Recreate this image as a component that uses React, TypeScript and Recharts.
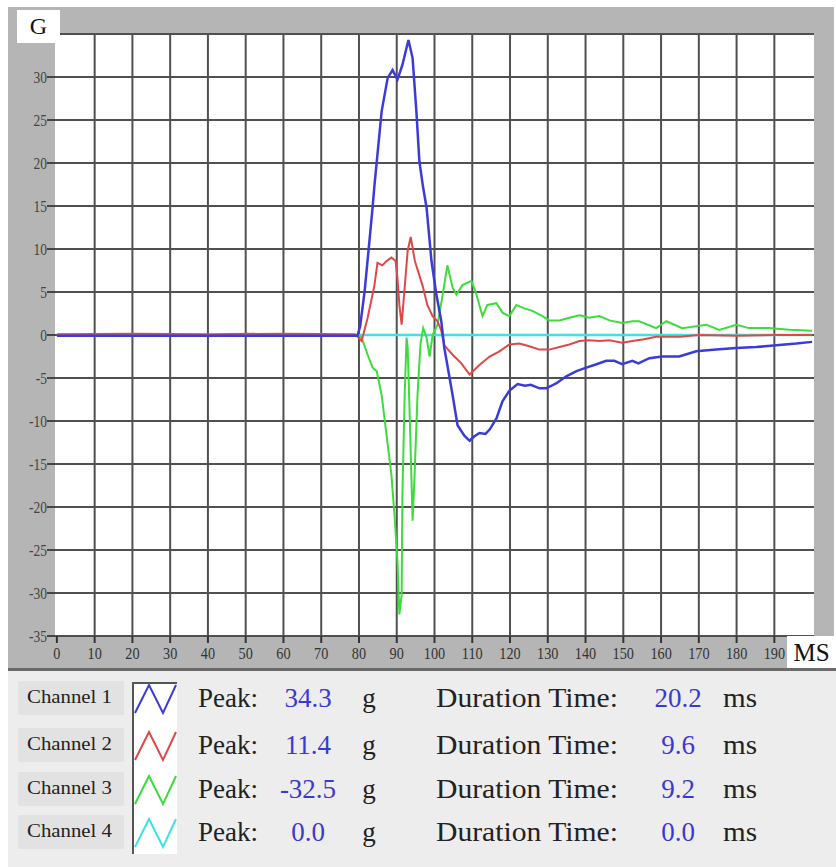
import React from 'react';
import { LineChart, Line, XAxis, YAxis, CartesianGrid } from 'recharts';

// channel 1 (blue)
const ch1Time = [0, 30, 60, 79.6, 80.3, 81.5, 83.0, 83.6, 84.1, 86.0, 87.6, 88.9, 90.2, 91.5, 93.1, 94.2, 95.2, 96.0, 96.9, 97.9, 99.2, 100.5, 101.8, 102.6, 103.2, 104.8, 106.1, 107.9, 109.3, 110.5, 111.9, 113.5, 114.6, 116.4, 118.0, 119.8, 122.0, 124.0, 125.5, 127.8, 129.6, 131.0, 132.3, 134.9, 137.6, 140.2, 142.9, 145.5, 147.6, 149.7, 152.4, 154.0, 156.9, 160.3, 164.8, 169.3, 174.6, 179.9, 185.2, 190.5, 195.8, 200];
const ch1G = [-0.1, -0.1, -0.1, -0.1, 1.0, 5.1, 12.0, 14.8, 17.4, 26.0, 29.9, 30.8, 29.7, 31.4, 34.3, 32.2, 26.0, 20.2, 17.4, 14.8, 8.6, 4.7, 1.6, -1.5, -3.0, -7.0, -10.5, -11.7, -12.3, -11.8, -11.4, -11.5, -11.0, -9.7, -7.7, -6.5, -5.7, -5.9, -5.8, -6.2, -6.2, -5.9, -5.6, -4.8, -4.2, -3.8, -3.4, -3.0, -3.0, -3.4, -3.0, -3.3, -2.7, -2.5, -2.5, -1.9, -1.7, -1.5, -1.4, -1.2, -1.0, -0.8];

// channel 2 (red)
const ch2Time = [0, 20, 40, 60, 79.0, 80.7, 82.3, 84.1, 84.9, 86.2, 87.3, 88.6, 89.7, 90.2, 90.7, 91.3, 92.1, 92.9, 93.7, 94.8, 96.8, 98.1, 99.5, 100.8, 101.8, 102.6, 104.8, 107.1, 109.3, 111.9, 114.6, 117.2, 119.8, 122.5, 125.1, 127.8, 130.4, 133.1, 135.7, 138.4, 141.0, 143.7, 146.3, 149.7, 152.4, 155.5, 158.7, 165, 170, 180, 190, 200];
const ch2G = [0.1, 0.15, 0.1, 0.15, 0.1, -0.7, 2.0, 5.8, 8.4, 8.1, 8.6, 9.0, 8.6, 6.6, 3.5, 1.2, 5.5, 9.8, 11.4, 8.6, 5.8, 3.5, 2.2, 1.6, 0.5, -1.2, -2.3, -3.3, -4.6, -3.5, -2.5, -1.9, -1.1, -1.0, -1.3, -1.7, -1.7, -1.4, -1.1, -0.7, -0.6, -0.7, -0.6, -0.9, -0.7, -0.5, -0.2, -0.2, 0.0, -0.1, 0.0, 0.0];

// channel 3 (green)
const ch3Time = [0, 40, 79.8, 80.7, 82.3, 83.6, 84.7, 86.0, 87.3, 88.6, 89.4, 90.2, 90.7, 91.3, 91.5, 92.1, 92.6, 92.9, 93.4, 94.2, 94.7, 95.5, 96.3, 97.0, 97.9, 98.7, 99.5, 100.8, 102.1, 103.4, 104.8, 105.8, 107.4, 109.8, 111.1, 112.7, 114.0, 116.4, 118.0, 119.8, 121.7, 123.8, 125.9, 128.6, 130.4, 133.1, 135.7, 138.4, 141.0, 143.7, 146.3, 149.7, 152.4, 154.2, 158.7, 161.4, 165.6, 172.0, 175.4, 179.9, 183.3, 188.6, 193.9, 200];
const ch3G = [0, 0, 0, -0.3, -2.3, -3.8, -4.2, -7.0, -11.6, -16.3, -20.9, -26.3, -32.5, -30.2, -18.6, -7.0, -0.3, -1.5, -8.8, -21.6, -16.6, -7.0, -1.0, 0.8, -0.3, -2.5, 0.0, 1.2, 4.5, 8.1, 5.5, 4.7, 5.8, 6.3, 4.7, 2.2, 3.5, 3.7, 2.6, 2.2, 3.5, 3.1, 2.8, 2.2, 1.7, 1.7, 2.0, 2.3, 2.0, 2.2, 1.7, 1.4, 1.6, 1.6, 0.8, 1.6, 0.8, 1.2, 0.6, 1.2, 0.8, 0.8, 0.6, 0.5];

// channel 4 (cyan)
const ch4Time = [80, 200];
const ch4G = [0, 0];

const xTicks = [0, 10, 20, 30, 40, 50, 60, 70, 80, 90, 100, 110, 120, 130, 140, 150, 160, 170, 180, 190];
const xGridValues = [10, 20, 30, 40, 50, 60, 70, 80, 90, 100, 110, 120, 130, 140, 150, 160, 170, 180, 190];
const yTicks = [-35, -30, -25, -20, -15, -10, -5, 0, 5, 10, 15, 20, 25, 30];

const channelNames = ['Channel 1', 'Channel 2', 'Channel 3', 'Channel 4'];
const peakValues = ['34.3', '11.4', '-32.5', '0.0'];
const durationValues = ['20.2', '9.6', '9.2', '0.0'];
const channelColors = ['#3b3bd8', '#e04848', '#3cdc3c', '#40e0e8'];

const toPoints = (t: number[], g: number[]) => t.map((x, i) => ({ t: x, g: g[i] }));

const serif = '"Liberation Serif", "Times New Roman", serif';

const XTick = (props: any) => {
  const { x, y, payload } = props;
  return (
    <text transform={`translate(${x},${y}) scale(0.95,1.15)`} x={0} y={12} textAnchor="middle" fontSize={15} fill="#333" fontFamily={serif}>
      {payload.value}
    </text>
  );
};

const YTick = (props: any) => {
  const { x, y, payload } = props;
  return (
    <text transform={`translate(${x},${y}) scale(0.9,1.1)`} x={0} y={5} textAnchor="end" fontSize={15} fill="#444" fontFamily={serif}>
      {payload.value}
    </text>
  );
};

const rowCenters = [30, 77, 121, 164];

const BottomPanel = () => (
  <svg width={836} height={199} style={{ position: 'absolute', left: 0, top: 668 }}>
    <rect x={8} y={0} width={828} height={199} fill="#ededed" />
    <rect x={8} y={0} width={828} height={3} fill="#6a6a6a" />
    <rect x={132} y={14} width={45} height={172} fill="#fff" />
    <line x1={133} y1={14} x2={133} y2={186} stroke="#555" strokeWidth={2} />
    <line x1={132} y1={15} x2={177} y2={15} stroke="#555" strokeWidth={2} />
    {channelNames.map((name, i) => {
      const cy = rowCenters[i];
      const base = cy + 9;
      const top = cy - 13;
      const bot = cy + 15;
      return (
        <g key={name}>
          <rect x={18} y={cy - 17} width={106} height={34} fill="#e2e2e2" rx={2} />
          <text x={27} y={cy + 5} fontSize={18} fontFamily={serif} fill="#222" textLength={85} lengthAdjust="spacingAndGlyphs">
            {name}
          </text>
          <polyline
            points={`135,${bot} 149,${top} 163,${bot} 176,${top}`}
            fill="none"
            stroke={channelColors[i]}
            strokeWidth={2}
          />
          <text x={198} y={base} fontSize={27} fontFamily={serif} fill="#222" textLength={60} lengthAdjust="spacingAndGlyphs">
            Peak:
          </text>
          <text x={308} y={base} fontSize={27} fontFamily={serif} fill="#3a3ad0" textAnchor="middle">
            {peakValues[i]}
          </text>
          <text x={369} y={base} fontSize={27} fontFamily={serif} fill="#222" textAnchor="middle">
            g
          </text>
          <text x={436} y={base} fontSize={27} fontFamily={serif} fill="#222" textLength={182} lengthAdjust="spacingAndGlyphs">
            Duration Time:
          </text>
          <text x={678} y={base} fontSize={27} fontFamily={serif} fill="#3a3ad0" textAnchor="middle">
            {durationValues[i]}
          </text>
          <text x={723} y={base} fontSize={27} fontFamily={serif} fill="#222" textLength={34} lengthAdjust="spacingAndGlyphs">
            ms
          </text>
        </g>
      );
    })}
  </svg>
);

export default function App() {
  const series = [
    { key: 'ch4', data: toPoints(ch4Time, ch4G), color: channelColors[3], width: 2.5 },
    { key: 'ch3', data: toPoints(ch3Time, ch3G), color: channelColors[2], width: 2 },
    { key: 'ch2', data: toPoints(ch2Time, ch2G), color: channelColors[1], width: 2 },
    { key: 'ch1', data: toPoints(ch1Time, ch1G), color: channelColors[0], width: 2.5 },
  ];
  return (
    <div style={{ position: 'absolute', left: 0, top: 0, width: 836, height: 867, background: '#fff', fontFamily: serif }}>
      <div style={{ position: 'absolute', left: 8, top: 7, width: 826, height: 661, background: '#b5b5b5' }} />
      <div style={{ position: 'absolute', left: 0, top: 0 }}>
        <LineChart width={836} height={668} margin={{ top: 34, right: 22, bottom: 0, left: 8 }}>
          <CartesianGrid fill="#fff" stroke="#505050" strokeWidth={2} verticalValues={xGridValues} strokeOpacity={1} />
          <XAxis
            dataKey="t"
            type="number"
            domain={[-0.5, 200.5]}
            ticks={xTicks}
            interval={0}
            height={32}
            tickSize={7}
            tickMargin={2}
            axisLine={false}
            tickLine={{ stroke: '#333', strokeWidth: 2 }}
            tick={<XTick />}
            allowDataOverflow
          />
          <YAxis
            type="number"
            domain={[-35, 35]}
            ticks={yTicks}
            interval={0}
            width={47}
            tickSize={8}
            tickMargin={0}
            axisLine={false}
            tickLine={{ stroke: '#444', strokeWidth: 2 }}
            tick={<YTick />}
            allowDataOverflow
          />
          {series.map((s) => (
            <Line
              key={s.key}
              data={s.data}
              dataKey="g"
              type="linear"
              stroke={s.color}
              strokeWidth={s.width}
              dot={false}
              activeDot={false}
              isAnimationActive={false}
            />
          ))}
        </LineChart>
      </div>
      <div style={{ position: 'absolute', left: 17, top: 10, width: 43, height: 33, background: '#fff', fontSize: 24, lineHeight: '33px', textAlign: 'center', color: '#111' }}>
        G
      </div>
      <div style={{ position: 'absolute', left: 787, top: 636, width: 49, height: 32, background: '#fff', fontSize: 25, lineHeight: '34px', textAlign: 'center', color: '#111' }}>
        MS
      </div>
      <BottomPanel />
    </div>
  );
}
